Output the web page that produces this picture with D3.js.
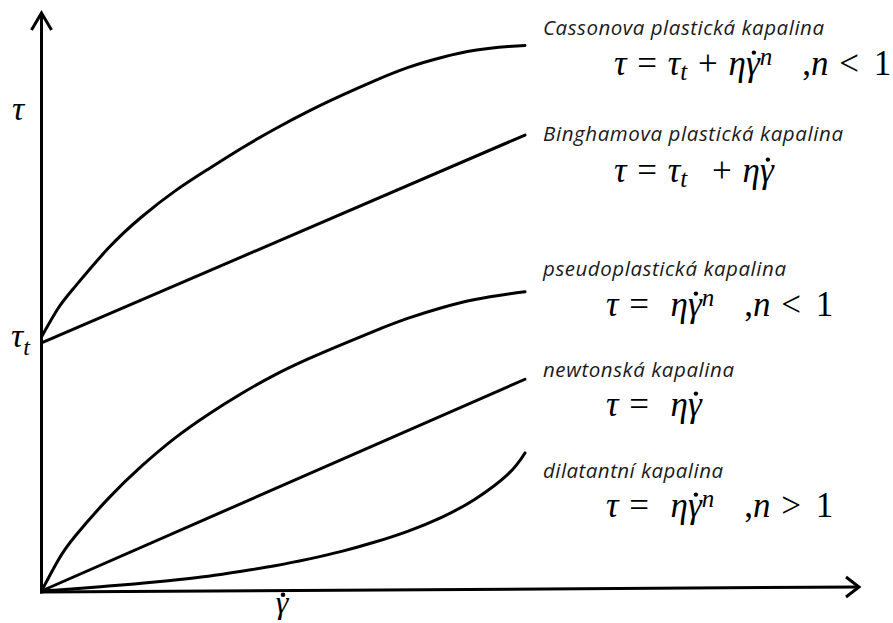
<!DOCTYPE html>
<html>
<head>
<meta charset="utf-8">
<script src="https://cdn.jsdelivr.net/npm/d3@7"></script>
<style>
  body { margin: 0; background: #fff; }
  svg { display: block; }
</style>
</head>
<body>
<svg id="chart" width="893" height="623"></svg>
<script>
// Shear rate samples (arbitrary units) shared by the curved flow laws
const shearRate   = [0, 0.5, 1, 2, 3, 4, 5, 6, 7, 8, 9, 10, 11, 12, 13, 14, 14.5];
// Shear stress of each fluid type (arbitrary units)
const cassonTau   = [4.62, 5.14, 5.53, 6.23, 6.80, 7.27, 7.67, 8.05, 8.40, 8.72, 9.01, 9.28, 9.52, 9.70, 9.83, 9.90, 9.92];
const pseudoTau   = [0, 0.56, 0.99, 1.68, 2.27, 2.78, 3.21, 3.59, 3.93, 4.22, 4.48, 4.73, 4.96, 5.15, 5.30, 5.40, 5.44];
const dilatantTau = [0, 0.02, 0.04, 0.09, 0.14, 0.20, 0.27, 0.36, 0.46, 0.58, 0.72, 0.89, 1.09, 1.34, 1.67, 2.13, 2.51];
// Straight flow laws: end points [shear rate, stress]
const binghamLine = [[0, 4.51], [14.5, 8.29]];
const newtonLine  = [[0, 0], [14.5, 3.85]];

const fluidNames = [
  "Cassonova plastická kapalina",
  "Binghamova plastická kapalina",
  "pseudoplastická kapalina",
  "newtonská kapalina",
  "dilatantní kapalina"
];

// Equation pieces: [text, kind]; kind i = italic, r = roman, sub / sup = scripts,
// dot = italic gamma carrying an overdot, gap = extra horizontal space (px)
const equations = [
  [["τ","i"],[" = ","r"],["τ","i"],["t","sub"],[" + ","r"],["η","i"],["γ","dot"],["n","sup"],[30,"gap"],[",","r"],["n","i"],[" < ","r"],[4,"gap"],["1","r"]],
  [["τ","i"],[" = ","r"],["τ","i"],["t","sub"],[14,"gap"],[" + ","r"],["η","i"],["γ","dot"]],
  [["τ","i"],[" =  ","r"],["η","i"],["γ","dot"],["n","sup"],[30,"gap"],[",","r"],["n","i"],[" < ","r"],[4,"gap"],["1","r"]],
  [["τ","i"],[" =  ","r"],["η","i"],["γ","dot"]],
  [["τ","i"],[" =  ","r"],["η","i"],["γ","dot"],["n","sup"],[30,"gap"],[",","r"],["n","i"],[" > ","r"],[4,"gap"],["1","r"]]
];

const svg = d3.select("#chart");
const x = d3.scaleLinear().domain([0, 14.5]).range([41.5, 525]);
const y = d3.scaleLinear().domain([0, 10]).range([591, 41]);

const ink = "#000";
const serif = "'Liberation Serif', 'DejaVu Serif', serif";
const line = d3.line().x(d => x(d[0])).y(d => y(d[1])).curve(d3.curveNatural);

// Axes with open arrow heads
const axes = svg.append("g").attr("fill", "none").attr("stroke", ink)
  .attr("stroke-width", 3).attr("stroke-linejoin", "miter");
axes.append("path").attr("d", `M${x(0)},${y(0) + 2.5} L${x(0)},13`);
axes.append("path").attr("d", `M${x(0) - 10},30 L${x(0)},13 L${x(0) + 10},30`);
axes.append("path").attr("d", `M${x(0) - 1.5},${y(0) + 1} L859,587`);
axes.append("path").attr("d", `M846,577 L859,587 L846,597`);

// Flow curves
const curves = [
  shearRate.map((g, i) => [g, cassonTau[i]]),
  binghamLine,
  shearRate.map((g, i) => [g, pseudoTau[i]]),
  newtonLine,
  shearRate.map((g, i) => [g, dilatantTau[i]])
];
svg.append("g").selectAll("path").data(curves).join("path")
  .attr("d", line)
  .attr("fill", "none").attr("stroke", ink).attr("stroke-width", 3)
  .attr("stroke-linecap", "round");

// Places an overdot above character `idx` of a text element
function overdot(textNode, idx, lift, r) {
  const b = textNode.getExtentOfChar(idx);
  svg.append("circle")
    .attr("cx", b.x + b.width * 0.58)
    .attr("cy", b.y + b.height * lift)
    .attr("r", r).attr("fill", ink);
}

// Axis symbols
svg.append("text").attr("x", 12).attr("y", 120)
  .attr("font-family", serif).attr("font-style", "italic").attr("font-size", 34)
  .text("τ");
const tt = svg.append("text").attr("x", 11).attr("y", 347)
  .attr("font-family", serif).attr("font-style", "italic").attr("font-size", 34);
tt.append("tspan").text("τ");
tt.append("tspan").attr("dy", 8).attr("font-size", 24).text("t");
const gx = svg.append("text").attr("x", 282).attr("y", 613).attr("text-anchor", "middle")
  .attr("font-family", serif).attr("font-style", "italic").attr("font-size", 32)
  .text("γ");
overdot(gx.node(), 0, 0.3, 2.3);

// Fluid names
const nameY = [35, 141, 276, 377, 478];
const nameWidth = [281, 300, 243, 191, 180];
svg.append("g").selectAll("text").data(fluidNames).join("text")
  .attr("x", 543).attr("y", (d, i) => nameY[i])
  .attr("font-family", "'Open Sans', 'Noto Sans', sans-serif")
  .attr("font-style", "italic").attr("font-size", 20.5).attr("fill", "#1a1a1a")
  .attr("textLength", (d, i) => nameWidth[i]).attr("lengthAdjust", "spacing")
  .text(d => d);

// Equations
const eqX = [614, 614, 606, 606, 606];
const eqY = [75, 182, 316, 416, 517];
equations.forEach((segs, k) => {
  const t = svg.append("text").attr("x", eqX[k]).attr("y", eqY[k])
    .attr("font-family", serif).attr("font-size", 35).attr("fill", ink)
    .attr("word-spacing", 2)
    .style("white-space", "pre");
  let shift = 0, pendingGap = 0, charIdx = 0;
  const dots = [];
  segs.forEach(([txt, kind]) => {
    if (kind === "gap") { pendingGap += txt; return; }
    const s = t.append("tspan").text(txt);
    let target = 0;
    if (kind === "i" || kind === "dot") s.attr("font-style", "italic");
    if (kind === "dot") dots.push(charIdx);
    if (kind === "sub") { s.attr("font-style", "italic").attr("font-size", 25); target = 5; }
    if (kind === "sup") { s.attr("font-style", "italic").attr("font-size", 25); target = -10; }
    if (target !== shift) { s.attr("dy", target - shift); shift = target; }
    if (pendingGap) { s.attr("dx", pendingGap); pendingGap = 0; }
    charIdx += txt.length;
  });
  dots.forEach(i => overdot(t.node(), i, 0.22, 2.2));
});
</script>
</body>
</html>
